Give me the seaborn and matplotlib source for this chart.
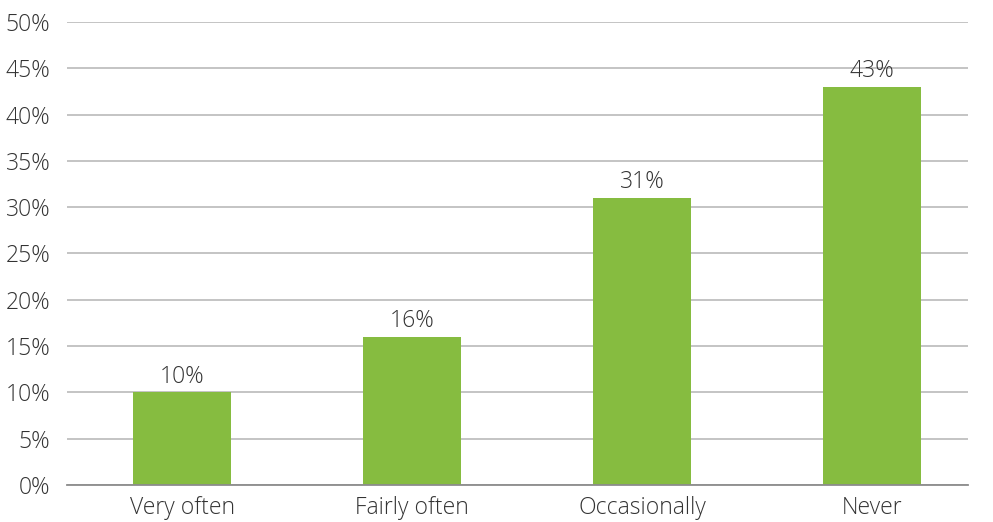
import matplotlib
matplotlib.use("Agg")
import matplotlib.pyplot as plt
import seaborn as sns
import pandas as pd
import numpy as np

# chart data
categories = ["Very often", "Fairly often", "Occasionally", "Never"]
values = [10, 16, 31, 43]
yticks = [0, 5, 10, 15, 20, 25, 30, 35, 40, 45, 50]

df = pd.DataFrame({"category": categories, "value": values})

sns.set_theme(style="white")
plt.rcParams["font.family"] = ["Open Sans", "DejaVu Sans"]

fig = plt.figure(figsize=(9.93, 5.22), dpi=100)
ax = fig.add_axes([0.0675, 0.0709, 0.9075, 0.887])

sns.barplot(data=df, x="category", y="value", color="#86bc40", saturation=1,
            width=0.426, linewidth=0, edgecolor="none", ax=ax, zorder=3)

ax.set_ylim(0, 50)
ax.set_xlim(-0.5, 3.417)
ax.set_yticks(yticks)
ax.set_yticklabels([f"{t}%" for t in yticks])
ax.yaxis.grid(True, color="#b4b4b4", linewidth=1.1, zorder=0)
ax.set_xlabel("")
ax.set_ylabel("")

for s in ["top", "right", "left"]:
    ax.spines[s].set_visible(False)
ax.spines["bottom"].set_color("#8c8c8c")
ax.spines["bottom"].set_linewidth(1.3)
ax.spines["bottom"].set_zorder(4)

ax.tick_params(axis="y", length=0, pad=12, labelsize=16.5, labelcolor="#333333")
ax.tick_params(axis="x", length=0, pad=8, labelsize=16.5, labelcolor="#333333")
for lab in ax.get_xticklabels() + ax.get_yticklabels():
    lab.set_fontweight("light")

# value labels over the bars
for i, v in enumerate(values):
    ax.text(i, v + 0.4, f"{v}%", ha="center", va="bottom", fontsize=16.5,
            color="#333333", fontweight="light")

plt.savefig("out.png", dpi=100)
